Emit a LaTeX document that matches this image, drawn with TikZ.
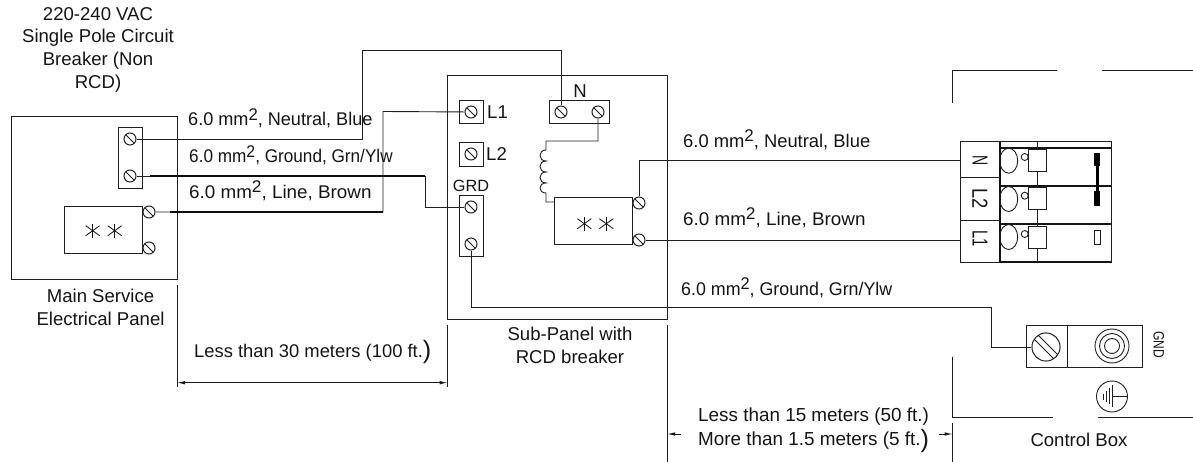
\documentclass[tikz,border=0pt]{standalone}
\usepackage{fontspec}
\setmainfont{Liberation Sans}
\usepackage{tikz}
\usetikzlibrary{arrows.meta}
\tikzset{
  wire/.style={line width=0.9pt, black!88},
  heavywire/.style={line width=1.4pt, black!95},
  panel/.style={draw=black!88, line width=0.9pt},
  label/.style={inner sep=0pt, font=\fontsize{18.5}{22.6}\selectfont, black!92},
  wirelabel/.style={inner sep=0pt, font=\fontsize{#1}{22}\selectfont, black!92, anchor=base west},
  screwhead/.style={circle, draw=black!88, line width=1pt, minimum size=12pt, inner sep=0pt, fill=white,
    path picture={\draw[line width=1pt, black!88] (path picture bounding box.north west) -- (path picture bounding box.south east);}},
  dimline/.style={line width=0.9pt, black!90}
}
\newcommand{\sqmm}[2]{6.0 mm\raisebox{5.5pt}{\scalebox{0.92}{2}}, #1, #2}
\newcommand{\bigparen}{\raisebox{-1.5pt}{\fontsize{25}{25}\selectfont )}}
\newcommand{\starpair}[2]{
  \foreach \sx in {-11,11} {
    \draw[line width=0.8pt, black!92] (#1+\sx,#2-7) -- (#1+\sx,#2+7);
    \draw[line width=0.8pt, black!92] (#1+\sx-7,#2-5) -- (#1+\sx+7,#2+5);
    \draw[line width=0.8pt, black!92] (#1+\sx-7,#2+5) -- (#1+\sx+7,#2-5);
  }
}
\begin{document}
\begin{tikzpicture}[x=0.996264pt,y=-0.996264pt]
\useasboundingbox (0,0) rectangle (1193,462);

\draw[panel] (11,116) rectangle (177,279);
\draw[panel] (118.5,127.5) rectangle (142,188);
\draw[panel] (64,206.5) rectangle (142,253);
\starpair{103.7}{230.7}
\draw[panel] (447.7,75) rectangle (667,319);
\draw[panel] (459.5,100) rectangle (483,123);
\draw[panel] (549.5,100) rectangle (609,123);
\draw[panel] (459.5,142) rectangle (483,166);
\draw[panel] (459.5,195.5) rectangle (483,256);
\draw[panel] (554.5,197.5) rectangle (632,244);
\starpair{595.3}{223.7}

\coordinate (mainN) at (362,139);
\coordinate (upN) at (362,50);
\coordinate (topN) at (561,50);
\coordinate (startG) at (150,176);
\coordinate (mainG) at (425,176);
\coordinate (lowG) at (425,207);
\coordinate (startL) at (170,212);
\coordinate (mainL) at (383,212);
\coordinate (upL) at (383,111.5);
\coordinate (coilB) at (546,141);
\coordinate (coilC) at (546,150);
\coordinate (coilD) at (546,193);
\coordinate (coilE) at (546,202);
\coordinate (coilF) at (554.5,202);
\coordinate (riseN) at (639,160);
\coordinate (sideL) at (960,240);
\coordinate (sideN) at (960,160);
\coordinate (subG) at (471,307);
\coordinate (farG) at (991,307);
\coordinate (dropG) at (991,347);

\node[screwhead] (s1) at (130,139) {};
\node[screwhead] (s2) at (130,176) {};
\node[screwhead] (s3) at (149,212) {};
\node[screwhead] (s4) at (149,248) {};
\node[screwhead] (s5) at (471,112) {};
\node[screwhead] (s6) at (561,112) {};
\node[screwhead] (s7) at (598,112) {};
\node[screwhead] (s8) at (471,154) {};
\node[screwhead] (s9) at (471,207) {};
\node[screwhead] (s10) at (471,244) {};
\node[screwhead] (s11) at (639,203) {};
\node[screwhead] (s12) at (639,240) {};
\node[screwhead, minimum size=28pt, path picture={
  \draw[line width=1pt, black!88] (-12,-8) -- (8,12);
  \draw[line width=1pt, black!88] (-8,-12) -- (12,8);}] (s13) at (1046,347) {};

\draw[wire] (s1) -- (mainN) -- (upN) -- (topN) -- (s6);
\draw[wire] (s2) -- (mainG) -- (lowG) -- (s9);
\draw[heavywire] (startG) -- (mainG);
\draw[wire] (s3) -- (mainL) -- (upL) -- (s5);
\draw[heavywire] (startL) -- (mainL);
\draw[wire] (s7) |- (coilB) -- (coilC)
  .. controls (538,150) and (538,161) .. (546,161)
  .. controls (538,161) and (538,172) .. (546,172)
  .. controls (538,172) and (538,183) .. (546,183)
  .. controls (538,183) and (538,193) .. (coilD)
  -- (coilE) -- (coilF);
\draw[wire] (s11) -- (riseN) -- (sideN);
\draw[wire] (s12) -- (sideL);
\draw[wire] (s10) -- (subG) -- (farG) -- (dropG) -- (s13);

\draw[panel] (960,141.7) rectangle (1111,262);
\draw[line width=1.6pt, black!92] (1000,148.3) -- (1111,148.3);
\draw[line width=1.6pt, black!92] (1000,185.7) -- (1111,185.7);
\draw[line width=1.6pt, black!92] (1000,224) -- (1111,224);
\draw[line width=1.6pt, black!92] (1000,262) -- (1111,262);
\draw[line width=1.6pt, black!92] (1000,141.7) -- (1000,262);
\draw[wire] (1037.7,141.7) -- (1037.7,262);
\draw[wire] (960,177.3) -- (1000,177.3);
\draw[wire] (960,220.7) -- (1000,220.7);
\foreach \oy/\cy/\ty/\by in {160.7/157/149.3/171.3, 199/195.7/187.7/209.7, 237/234/226/248.3} {
  \draw[wire] (1008.7,\oy) ellipse [x radius=9, y radius=12.5];
  \draw[wire] (1024.7,\cy) circle [radius=3.5];
  \draw[wire, fill=white] (1028.3,\ty) rectangle (1046,\by);
}
\fill[black] (1094.3,153) rectangle (1100,166);
\fill[black] (1094.3,191) rectangle (1100,205.7);
\fill[black] (1095.5,166) rectangle (1098.8,191);
\draw[wire] (1094.3,230) rectangle (1100,244);

\draw[panel] (1026,325.5) rectangle (1142,367);
\draw[wire] (1067,325.5) -- (1067,367);
\draw[wire] (1112,346) circle [radius=17];
\draw[wire] (1112,346) circle [radius=12.5];
\draw[wire] (1112,346) circle [radius=7.5];
\draw[wire] (1112,396.5) circle [radius=15.5];
\draw[wire] (1128,396.5) -- (1112,396.5);
\draw[wire] (1112,385) -- (1112,407);
\draw[wire] (1109,388) -- (1109,404);
\draw[wire] (1106.5,391) -- (1106.5,402);
\draw[wire] (1103.5,393.5) -- (1103.5,399.5);

\draw[wire] (952.7,102.7) -- (952.7,70.7) -- (1057,70.7);
\draw[wire] (1102,70.7) -- (1193,70.7);
\draw[wire] (952.7,356.7) -- (952.7,417) -- (1053,417);
\draw[wire] (1098,417) -- (1193,417);
\draw[wire] (952.7,422.7) -- (952.7,461.7);
\draw[wire] (667,325) -- (667,461.7);
\draw[wire] (177,285) -- (177,387);
\draw[wire] (447.7,325) -- (447.7,387);

\coordinate (dimA) at (177,382.7);
\coordinate (dimB) at (447.7,382.7);
\coordinate (dimC) at (681,434);
\coordinate (dimD) at (667,434);
\coordinate (dimE) at (939,434);
\coordinate (dimF) at (952.7,434);
\draw[dimline, {Latex[length=8pt,width=3.5pt]}-{Latex[length=8pt,width=3.5pt]}] (dimA) -- (dimB);
\draw[dimline, -{Latex[length=8pt,width=3.5pt]}] (dimC) -- (dimD);
\draw[dimline, -{Latex[length=8pt,width=3.5pt]}] (dimE) -- (dimF);

\node[label, align=center] (breakertext) at (98,49.5) {220-240 VAC\\Single Pole Circuit\\Breaker (Non\\RCD)};
\node[label, align=center] (maintext) at (100.5,307.5) {Main Service\\Electrical Panel};
\node[label, align=center] (subtext) at (570,345.5) {Sub-Panel with\\RCD breaker};
\node[label] (boxtext) at (1079,440) {Control Box};
\node[wirelabel=18.3] (neutralA) at (188,126) {\scalebox{0.985}[1]{\sqmm{Neutral}{Blue}}};
\node[wirelabel=18.3] (groundA) at (189,162.7) {\scalebox{0.935}[1]{\sqmm{Ground}{Grn/Ylw}}};
\node[wirelabel=18.3] (lineA) at (189,198.3) {\scalebox{1.025}[1]{\sqmm{Line}{Brown}}};
\node[wirelabel=18.3] (neutralB) at (683,147.5) {\sqmm{Neutral}{Blue}};
\node[wirelabel=18.3] (lineB) at (683,225.5) {\scalebox{1.025}[1]{\sqmm{Line}{Brown}}};
\node[wirelabel=18.3] (groundB) at (681,295.5) {\scalebox{0.97}[1]{\sqmm{Ground}{Grn/Ylw}}};
\node[wirelabel=18.3] (lessA) at (194,357.3) {Less than 30 meters (100 ft.\bigparen};
\node[wirelabel=18.8] (lessB) at (698,421.7) {Less than 15 meters (50 ft.)};
\node[wirelabel=18.8] (moreB) at (698,445.7) {More than 1.5 meters (5 ft.\bigparen};

\node[label] (l1text) at (497.5,112) {L1};
\node[label] (l2text) at (496.5,154) {L2};
\node[label] (ntext) at (580,91) {N};
\node[label, font=\fontsize{16.2}{20}\selectfont] (grdtext) at (471,186) {GRD};
\node[label, rotate=-90, font=\fontsize{14}{17}\selectfont] (ncell) at (980,161) {\scalebox{1}[1.55]{N}};
\node[label, rotate=-90, font=\fontsize{14}{17}\selectfont] (l2cell) at (980,198.7) {\scalebox{1.3}[1.55]{L2}};
\node[label, rotate=-90, font=\fontsize{14}{17}\selectfont] (l1cell) at (980,238.7) {\scalebox{1.05}[1.55]{L1}};
\node[label, rotate=-90, font=\fontsize{12}{14}\selectfont] (gndtext) at (1158.7,345) {\scalebox{1}[1.25]{GND}};
\end{tikzpicture}
\end{document}
